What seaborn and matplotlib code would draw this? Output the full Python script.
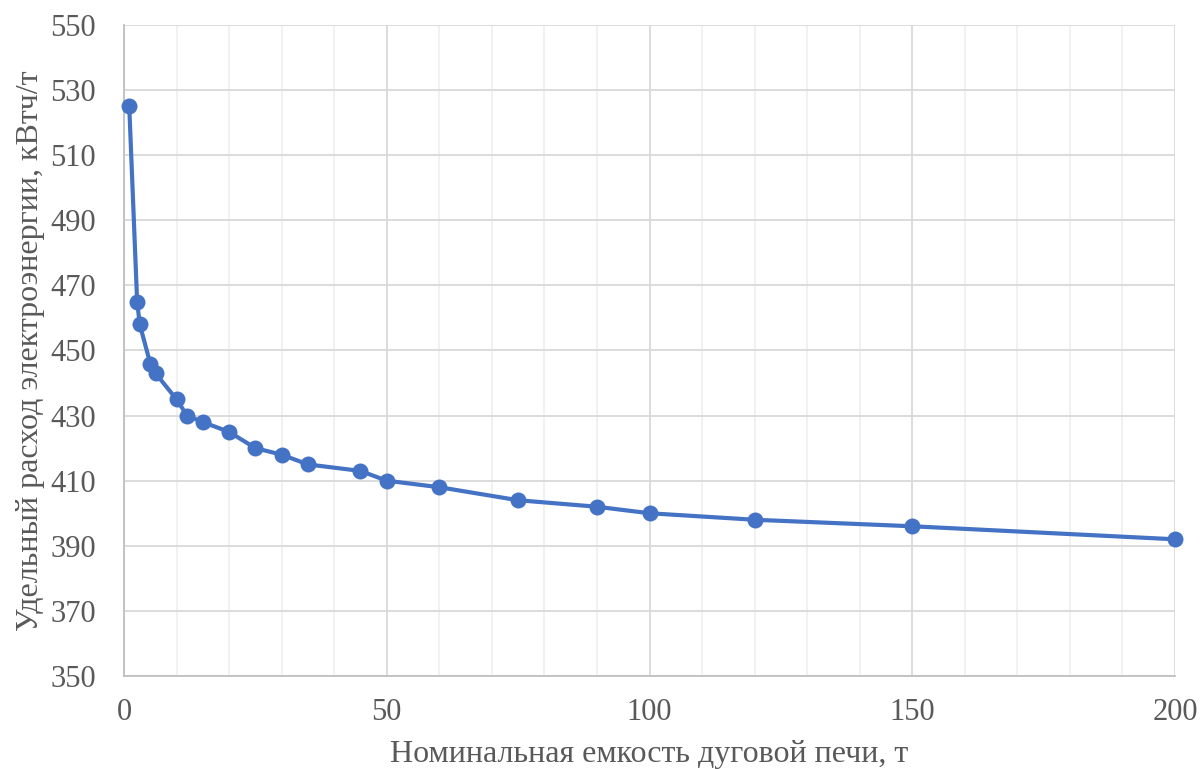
import matplotlib
matplotlib.use("Agg")
import matplotlib.pyplot as plt
import seaborn as sns
import pandas as pd
from matplotlib.ticker import MultipleLocator

capacity = [1, 2.5, 3, 5, 6, 10, 12, 15, 20, 25, 30, 35, 45, 50, 60, 75, 90, 100, 120, 150, 200]
energy = [525, 465, 458, 446, 443, 435, 430, 428, 425, 420, 418, 415, 413, 410, 408, 404, 402, 400, 398, 396, 392]
y_ticks = [350, 370, 390, 410, 430, 450, 470, 490, 510, 530, 550]
x_ticks = [0, 50, 100, 150, 200]

x_label = "Номинальная емкость дуговой печи, т"
y_label = "Удельный расход электроэнергии, кВтч/т"

df = pd.DataFrame({"cap": capacity, "en": energy})

sns.set_theme(style="white")
plt.rcParams['font.family'] = ['Liberation Serif', 'DejaVu Serif']

fig = plt.figure(figsize=(12.03, 7.69), dpi=100)
ax = fig.add_axes([124/1203, 1-676/769, (1175-124)/1203, (676-25)/769])

sns.lineplot(data=df, x="cap", y="en", ax=ax, color="#4472C4", linewidth=3.0,
             marker="o", markersize=11.5, markeredgewidth=0, sort=False, zorder=3,
             clip_on=False)

ax.set_xlim(0, 200)
ax.set_ylim(350, 550)
ax.set_xticks(x_ticks)
ax.set_yticks(y_ticks)
ax.xaxis.set_minor_locator(MultipleLocator(10))

ax.grid(which="major", axis="both", color="#D9D9D9", linewidth=1.3)
ax.grid(which="minor", axis="x", color="#EDEDED", linewidth=1.1)
ax.set_axisbelow(True)

for s in ["top", "right"]:
    ax.spines[s].set_visible(False)
for s in ["left", "bottom"]:
    ax.spines[s].set_color("#BFBFBF")
    ax.spines[s].set_linewidth(1.3)

ax.tick_params(axis="both", which="both", length=0, labelsize=22, colors="#595959")
ax.tick_params(axis="y", pad=20)
ax.tick_params(axis="x", pad=16)
ax.set_xlabel(x_label, fontsize=23, color="#595959", labelpad=9)
ax.set_ylabel(y_label, fontsize=23, color="#595959", labelpad=4)

fig.savefig("out.png", dpi=100)
